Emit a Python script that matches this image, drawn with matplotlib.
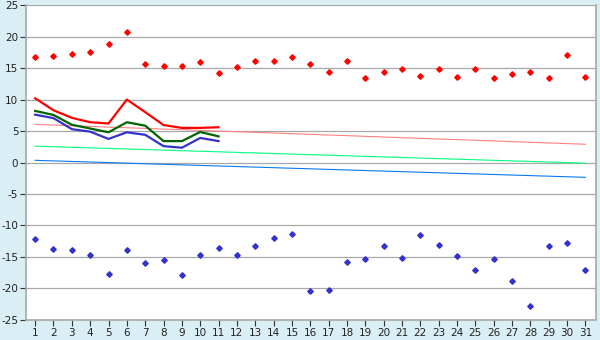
import numpy as np
import matplotlib.pyplot as plt

plt.rcParams['axes.unicode_minus'] = False

# ---------------- DATA ----------------
days = list(range(1, 32))
day_max = [16.7, 16.85, 17.3, 17.6, 18.75, 20.7, 15.6, 15.25, 15.25, 15.9,
           14.15, 15.1, 16.05, 16.05, 16.7, 15.6, 14.45, 16.2, 13.5, 14.45,
           14.9, 13.8, 14.9, 13.65, 14.8, 13.5, 14.0, 14.3, 13.5, 17.15, 13.65]
day_min = [-12.2, -13.8, -13.9, -14.7, -17.75, -13.9, -16.0, -15.5, -17.9, -14.7,
           -13.5, -14.7, -13.3, -12.0, -11.4, -20.45, -20.3, -15.85, -15.4, -13.3,
           -15.2, -11.55, -13.15, -14.9, -17.1, -15.4, -18.85, -22.8, -13.3, -12.8, -17.1]

cur_days = list(range(1, 12))
cur_max = [10.2, 8.3, 7.1, 6.4, 6.2, 10.0, 8.0, 5.95, 5.5, 5.5, 5.6]
cur_mean = [8.2, 7.55, 6.0, 5.4, 4.8, 6.4, 5.85, 3.4, 3.4, 4.85, 4.15]
cur_min = [7.6, 7.05, 5.3, 4.9, 3.75, 4.8, 4.4, 2.6, 2.35, 3.9, 3.4]

norm_days = [1, 31]
norm_max = [6.05, 2.9]
norm_mean = [2.6, -0.1]
norm_min = [0.35, -2.35]

yticks = list(range(-25, 30, 5))

# ---------------- PLOT ----------------
bg = '#DAEEF5'
fig = plt.figure(figsize=(6, 3.4), dpi=100, facecolor=bg)
ax = fig.add_axes([0.0433, 0.059, 0.9492, 0.926])
ax.set_facecolor('white')

for y in yticks:
    ax.axhline(y, color='#A8A8A8', lw=0.9, zorder=1)

ax.plot(norm_days, norm_max, color='#FF8080', lw=0.8, zorder=2)
ax.plot(norm_days, norm_mean, color='#00FF80', lw=0.8, zorder=2)
ax.plot(norm_days, norm_min, color='#0A78F0', lw=0.8, zorder=2)

ax.plot(cur_days, cur_max, color='#FF0000', lw=1.6, zorder=3)
ax.plot(cur_days, cur_mean, color='#006400', lw=1.6, zorder=3)
ax.plot(cur_days, cur_min, color='#3333CC', lw=1.6, zorder=3)

ax.plot(days, day_max, ls='none', marker='D', ms=2.8, color='#FF0000', mec='#FF0000', zorder=4)
ax.plot(days, day_min, ls='none', marker='D', ms=2.8, color='#3333CC', mec='#3333CC', zorder=4)

ax.set_xlim(0.5, 31.55)
ax.set_ylim(-25, 25)
ax.set_xticks(days)
ax.set_yticks(yticks)
ax.tick_params(axis='both', labelsize=7.5, colors='#333333', labelcolor='#222222',
               length=4, width=0.8, direction='out', pad=1.5)

ax.spines['top'].set_visible(False)
for side in ['left', 'bottom', 'right']:
    ax.spines[side].set_color('#A8A8A8')
    ax.spines[side].set_linewidth(1.2)

fig.savefig('out.png', dpi=100, facecolor=bg)
